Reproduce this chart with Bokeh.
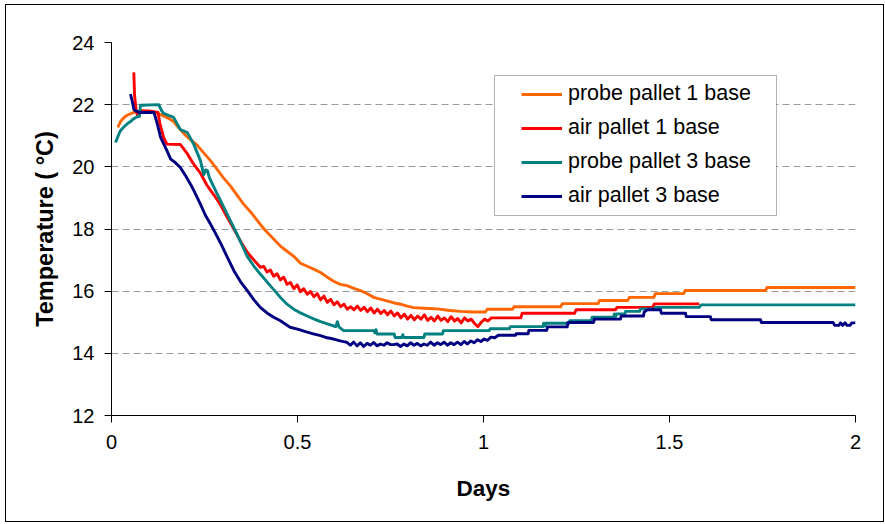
from bokeh.plotting import figure
from bokeh.models import (Legend, LegendItem, BoxAnnotation, FixedTicker, Range1d,
                          NumeralTickFormatter, InlineStyleSheet)
from bokeh.embed import file_html
from bokeh.resources import INLINE

# ---------------- data ----------------
series_names = ["probe pallet 1 base", "air pallet 1 base", "probe pallet 3 base", "air pallet 3 base"]
series_colors = ["#FF6600", "#FF0000", "#008080", "#000080"]

x_ticks = [0, 0.5, 1, 1.5, 2]
x_tick_labels = ["0", "0.5", "1", "1.5", "2"]
y_ticks = [12, 14, 16, 18, 20, 22, 24]

probe1_days = [0.017, 0.024, 0.033, 0.042, 0.06, 0.08, 0.11, 0.123, 0.14, 0.155,
               0.167, 0.185, 0.2, 0.215, 0.23, 0.248, 0.266, 0.284, 0.3, 0.32,
               0.337, 0.355, 0.374, 0.39, 0.41, 0.43, 0.454, 0.47, 0.49, 0.508,
               0.526, 0.545, 0.562, 0.58, 0.597, 0.615, 0.633, 0.65, 0.669, 0.69,
               0.705, 0.72, 0.74, 0.76, 0.777, 0.795, 0.812, 0.84, 0.875, 0.91,
               0.938, 0.97, 1.005, 1.01, 1.078, 1.082, 1.208, 1.212, 1.308, 1.312,
               1.388, 1.392, 1.458, 1.462, 1.538, 1.542, 1.758, 1.762, 2.0]
probe1_temp = [21.27, 21.45, 21.58, 21.66, 21.75, 21.8, 21.78, 21.72, 21.64, 21.55,
               21.46, 21.2, 21.0, 20.85, 20.7, 20.45, 20.2, 19.92, 19.66, 19.38,
               19.1, 18.8, 18.55, 18.3, 18.0, 17.75, 17.45, 17.3, 17.12, 16.9,
               16.8, 16.7, 16.6, 16.45, 16.32, 16.22, 16.18, 16.1, 16.02, 15.9,
               15.8, 15.75, 15.69, 15.62, 15.58, 15.52, 15.47, 15.45, 15.43, 15.38,
               15.35, 15.33, 15.33, 15.42, 15.42, 15.5, 15.5, 15.6, 15.6, 15.7,
               15.7, 15.8, 15.8, 15.92, 15.92, 16.02, 16.02, 16.12, 16.12]

air1_days = [0.06, 0.062, 0.066, 0.07, 0.075, 0.08, 0.1, 0.125, 0.13, 0.14,
             0.149, 0.185, 0.205, 0.22, 0.239, 0.257, 0.275, 0.293, 0.31, 0.329,
             0.347, 0.365, 0.383, 0.4, 0.409, 0.418, 0.427, 0.436, 0.445, 0.454,
             0.463, 0.472, 0.481, 0.49, 0.499, 0.508, 0.517, 0.526, 0.535, 0.544,
             0.553, 0.562, 0.571, 0.58, 0.589, 0.598, 0.607, 0.616, 0.625, 0.634,
             0.643, 0.652, 0.661, 0.67, 0.679, 0.688, 0.697, 0.706, 0.715, 0.724,
             0.733, 0.742, 0.751, 0.76, 0.769, 0.778, 0.787, 0.796, 0.805, 0.814,
             0.823, 0.832, 0.841, 0.85, 0.859, 0.868, 0.877, 0.886, 0.895, 0.904,
             0.913, 0.922, 0.931, 0.94, 0.949, 0.958, 0.967, 0.976, 0.985, 0.994,
             1.003, 1.012, 1.021, 1.1, 1.104, 1.245, 1.249, 1.355, 1.359, 1.455,
             1.459, 1.58]
air1_temp = [23.04, 22.3, 21.85, 21.64, 21.7, 21.8, 21.8, 21.75, 21.4, 20.95,
             20.73, 20.72, 20.4, 20.1, 19.8, 19.4, 19.1, 18.78, 18.4, 18.0,
             17.6, 17.25, 17.0, 16.77, 16.8, 16.62, 16.68, 16.48, 16.56, 16.36,
             16.45, 16.22, 16.28, 16.08, 16.2, 15.98, 16.08, 15.9, 15.99, 15.82,
             15.92, 15.72, 15.84, 15.64, 15.74, 15.56, 15.66, 15.5, 15.58, 15.42,
             15.5, 15.4, 15.52, 15.38, 15.48, 15.34, 15.46, 15.3, 15.42, 15.28,
             15.38, 15.24, 15.36, 15.2, 15.3, 15.14, 15.26, 15.1, 15.22, 15.08,
             15.2, 15.1, 15.24, 15.06, 15.16, 15.04, 15.2, 15.06, 15.14, 15.02,
             15.18, 15.04, 15.12, 14.98, 15.14, 15.04, 15.1, 14.96, 14.86, 15.0,
             15.1, 15.04, 15.14, 15.14, 15.29, 15.29, 15.4, 15.4, 15.48, 15.48,
             15.59, 15.59]

probe3_days = [0.011, 0.018, 0.024, 0.033, 0.042, 0.05, 0.06, 0.07, 0.075, 0.078,
               0.127, 0.135, 0.14, 0.155, 0.167, 0.178, 0.185, 0.204, 0.221, 0.239,
               0.248, 0.253, 0.258, 0.263, 0.284, 0.311, 0.337, 0.365, 0.383, 0.4,
               0.418, 0.436, 0.454, 0.47, 0.49, 0.508, 0.526, 0.545, 0.562, 0.58,
               0.597, 0.603, 0.607, 0.612, 0.624, 0.705, 0.708, 0.711, 0.714, 0.76,
               0.762, 0.78, 0.783, 0.786, 0.84, 0.842, 0.89, 0.892, 1.015, 1.018,
               1.07, 1.072, 1.16, 1.162, 1.165, 1.168, 1.23, 1.232, 1.29, 1.292,
               1.35, 1.352, 1.355, 1.358, 1.38, 1.382, 1.42, 1.422, 1.46, 1.462,
               1.58, 1.585, 2.0]
probe3_temp = [20.78, 21.0, 21.16, 21.28, 21.38, 21.45, 21.55, 21.62, 21.62, 21.98,
               22.0, 21.8, 21.72, 21.65, 21.59, 21.35, 21.2, 21.1, 20.73, 20.2,
               19.75, 19.9, 19.88, 19.65, 19.13, 18.48, 17.84, 17.12, 16.8, 16.55,
               16.3, 16.05, 15.8, 15.6, 15.42, 15.3, 15.2, 15.1, 15.02, 14.95,
               14.88, 14.86, 15.02, 14.84, 14.73, 14.73, 14.66, 14.76, 14.62, 14.62,
               14.51, 14.51, 14.6, 14.51, 14.51, 14.62, 14.62, 14.73, 14.73, 14.79,
               14.79, 14.86, 14.86, 14.97, 14.88, 14.97, 14.97, 15.05, 15.05, 15.16,
               15.16, 15.27, 15.18, 15.27, 15.27, 15.35, 15.35, 15.43, 15.43, 15.48,
               15.48, 15.56, 15.56]

air3_days = [0.051, 0.056, 0.06, 0.065, 0.075, 0.114, 0.118, 0.123, 0.132, 0.14,
             0.149, 0.159, 0.17, 0.185, 0.2, 0.212, 0.225, 0.239, 0.252, 0.266,
             0.28, 0.293, 0.311, 0.329, 0.347, 0.365, 0.383, 0.4, 0.418, 0.436,
             0.454, 0.466, 0.48, 0.5, 0.526, 0.545, 0.562, 0.58, 0.597, 0.615,
             0.633, 0.642, 0.651, 0.66, 0.669, 0.678, 0.687, 0.696, 0.705, 0.714,
             0.723, 0.732, 0.741, 0.75, 0.759, 0.768, 0.777, 0.786, 0.795, 0.804,
             0.813, 0.822, 0.831, 0.84, 0.849, 0.858, 0.867, 0.876, 0.885, 0.894,
             0.903, 0.912, 0.921, 0.93, 0.939, 0.948, 0.957, 0.966, 0.975, 0.984,
             0.993, 1.002, 1.011, 1.02, 1.03, 1.04, 1.086, 1.088, 1.12, 1.122,
             1.17, 1.172, 1.225, 1.227, 1.296, 1.298, 1.368, 1.37, 1.43, 1.432,
             1.44, 1.476, 1.478, 1.543, 1.545, 1.61, 1.612, 1.745, 1.747, 1.94,
             1.944, 1.955, 1.96, 1.965, 1.972, 1.977, 1.985, 1.99, 2.0]
air3_temp = [22.34, 22.1, 21.85, 21.8, 21.75, 21.75, 21.6, 21.38, 20.95, 20.75,
             20.52, 20.25, 20.15, 19.98, 19.7, 19.45, 19.15, 18.8, 18.45, 18.16,
             17.85, 17.55, 17.1, 16.66, 16.3, 16.02, 15.72, 15.48, 15.3, 15.16,
             15.05, 14.95, 14.84, 14.78, 14.68, 14.62, 14.57, 14.5, 14.46, 14.4,
             14.35, 14.26, 14.36, 14.24, 14.34, 14.22, 14.32, 14.26, 14.35, 14.24,
             14.3, 14.26, 14.34, 14.28, 14.28, 14.3, 14.22, 14.3, 14.24, 14.34,
             14.26, 14.32, 14.24, 14.3, 14.26, 14.36, 14.26, 14.34, 14.28, 14.36,
             14.26, 14.34, 14.28, 14.36, 14.28, 14.38, 14.3, 14.4, 14.34, 14.44,
             14.38, 14.46, 14.42, 14.52, 14.5, 14.58, 14.58, 14.63, 14.63, 14.74,
             14.74, 14.85, 14.85, 14.99, 14.99, 15.1, 15.1, 15.2, 15.2, 15.33,
             15.4, 15.4, 15.29, 15.29, 15.18, 15.18, 15.08, 15.08, 14.99, 14.99,
             14.9, 14.9, 14.98, 14.9, 14.98, 14.9, 14.9, 14.98, 14.98]

series_days = [probe1_days, air1_days, probe3_days, air3_days]
series_temp = [probe1_temp, air1_temp, probe3_temp, air3_temp]

# ---------------- figure ----------------
FONT = "Liberation Sans"

outer_border_css = """
:host { position: relative; }
:host::after {
  content: "";
  position: absolute;
  left: 5px; top: 4px; width: 879px; height: 518px;
  border: 1.5px solid black;
  box-sizing: border-box;
  pointer-events: none;
  z-index: 10;
}
"""

p = figure(width=885, height=524, output_backend="svg", toolbar_location=None,
           x_range=Range1d(0, 2), y_range=Range1d(12, 24),
           min_border_left=111, min_border_right=30, min_border_top=42, min_border_bottom=109,
           stylesheets=[InlineStyleSheet(css=outer_border_css)])
p.background_fill_color = "white"
p.border_fill_color = "white"
p.outline_line_color = None

p.xgrid.visible = False
p.ygrid.ticker = FixedTicker(ticks=y_ticks)
p.ygrid.grid_line_color = "#9a9a9a"
p.ygrid.grid_line_dash = "7 4"
p.ygrid.grid_line_width = 1

p.xaxis.ticker = FixedTicker(ticks=x_ticks)
p.yaxis.ticker = FixedTicker(ticks=y_ticks)
p.xaxis.formatter = NumeralTickFormatter(format="0.[0]")
p.xaxis.major_label_overrides = {t: l for t, l in zip(x_ticks, x_tick_labels)}

for ax in (p.xaxis, p.yaxis):
    ax.axis_line_color = "black"
    ax.axis_line_width = 1
    ax.major_tick_line_color = "black"
    ax.major_tick_in = 0
    ax.major_tick_out = 7
    ax.minor_tick_line_color = None
    ax.major_label_text_font = FONT
    ax.major_label_text_font_size = "20px"
    ax.major_label_text_color = "black"
    ax.axis_label_text_font = FONT
    ax.axis_label_text_font_style = "bold"
    ax.axis_label_text_color = "black"

p.xaxis.axis_label = "Days"
p.yaxis.axis_label = "Temperature ( \u00b0C)"
p.xaxis.axis_label_text_font_size = "22.5px"
p.yaxis.axis_label_text_font_size = "23.5px"
p.xaxis.major_label_standoff = 12
p.yaxis.major_label_standoff = 10
p.xaxis.axis_label_standoff = 24
p.yaxis.axis_label_standoff = 11

renderers = []
for d, t, c in zip(series_days, series_temp, series_colors):
    r = p.line(d, t, line_color=c, line_width=2.9, line_join="round")
    renderers.append(r)

# legend frame (white box with thin black border)
legend_box = BoxAnnotation(left=494, right=776, top=75, bottom=215,
                           left_units="canvas", right_units="canvas",
                           top_units="canvas", bottom_units="canvas",
                           fill_color="white", fill_alpha=1.0,
                           line_color="black", line_width=1)
p.add_layout(legend_box)

legend = Legend(items=[LegendItem(label=n, renderers=[r]) for n, r in zip(series_names, renderers)],
                location=(410, 207), padding=8, spacing=9, margin=0,
                label_height=22, glyph_height=22, glyph_width=41, label_standoff=6,
                border_line_color=None, background_fill_alpha=0.0,
                label_text_font=FONT, label_text_font_size="21.5px", label_text_color="black")
p.add_layout(legend, "center")

open("out.html", "w").write(file_html(p, INLINE))
